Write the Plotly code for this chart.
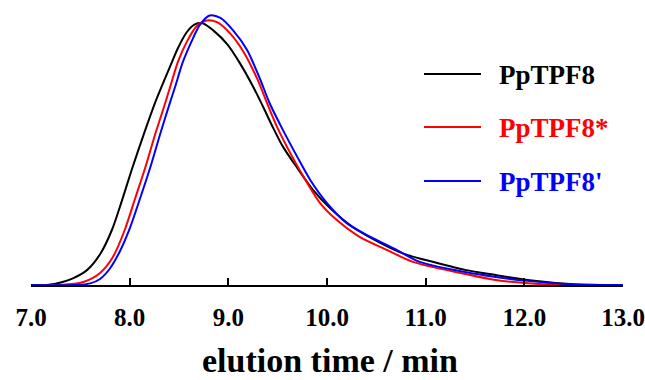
import plotly.graph_objects as go

# elution time (min) and normalized detector response
t_black = [7.0, 7.16, 7.32, 7.43, 7.57, 7.70, 7.82, 7.92, 8.02, 8.14, 8.26, 8.41, 8.49, 8.58,
           8.66, 8.74, 8.85, 8.99, 9.12, 9.25, 9.35, 9.44, 9.55, 9.70, 9.86, 10.03, 10.26, 10.54,
           10.78, 11.0, 11.40, 11.71, 12.03, 12.5, 13.0]
y_black = [0.0, 0.0, 0.011, 0.025, 0.055, 0.112, 0.200, 0.305, 0.418, 0.545, 0.665, 0.795, 0.862, 0.920,
           0.948, 0.952, 0.925, 0.875, 0.805, 0.722, 0.650, 0.582, 0.505, 0.425, 0.345, 0.280, 0.211, 0.153,
           0.113, 0.091, 0.055, 0.036, 0.018, 0.003, 0.0]

t_red = [7.0, 7.30, 7.53, 7.70, 7.83, 7.95, 8.05, 8.16, 8.26, 8.35, 8.41, 8.49, 8.58, 8.68, 8.78,
         8.89, 9.02, 9.15, 9.29, 9.40, 9.49, 9.65, 9.80, 9.93, 10.10, 10.33, 10.61, 10.87, 11.40,
         11.71, 12.14, 13.0]
y_red = [0.0, 0.0, 0.011, 0.044, 0.102, 0.200, 0.309, 0.429, 0.550, 0.650, 0.720, 0.812, 0.885, 0.942, 0.962,
         0.955, 0.914, 0.850, 0.752, 0.655, 0.578, 0.465, 0.371, 0.298, 0.236, 0.175, 0.127, 0.084, 0.040,
         0.018, 0.004, 0.0]

t_blue = [7.0, 7.45, 7.60, 7.70, 7.80, 7.90, 8.00, 8.10, 8.21, 8.31, 8.41, 8.46, 8.54, 8.63, 8.71, 8.81,
          8.92, 9.05, 9.19, 9.32, 9.42, 9.55, 9.70, 9.83, 10.0, 10.20, 10.44, 10.71, 10.94, 11.40,
          11.71, 12.03, 12.45, 13.0]
y_blue = [0.0, 0.0, 0.006, 0.022, 0.060, 0.122, 0.205, 0.309, 0.429, 0.550, 0.665, 0.720, 0.812, 0.888, 0.945, 0.980,
          0.971, 0.925, 0.855, 0.750, 0.660, 0.566, 0.465, 0.382, 0.298, 0.225, 0.175, 0.127, 0.084, 0.047,
          0.029, 0.015, 0.003, 0.0]

names = ["PpTPF8", "PpTPF8*", "PpTPF8'"]
colors = ["#000000", "#ff0000", "#0000ff"]
series = [(t_black, y_black), (t_red, y_red), (t_blue, y_blue)]

tick_vals = [7, 8, 9, 10, 11, 12, 13]
tick_text = ["7.0", "8.0", "9.0", "10.0", "11.0", "12.0", "13.0"]

FONT = "Liberation Serif"

fig = go.Figure()
for (tx, ty), name, col in zip(series, names, colors):
    fig.add_trace(go.Scatter(x=tx, y=ty, mode="lines", name=name,
                             line=dict(color=col, width=2, shape="spline", smoothing=0.8),
                             showlegend=False))

# manual legend
leg_y = [74, 127, 181]
for name, col, py in zip(names, colors, leg_y):
    yp = 1 - (py - 10) / 275
    fig.add_shape(type="line", xref="paper", yref="paper",
                  x0=(424 - 31) / 592, x1=(481 - 31) / 592, y0=yp, y1=yp,
                  line=dict(color=col, width=2))
    fig.add_annotation(xref="paper", yref="paper", x=(497 - 31) / 592, y=yp,
                       xanchor="left", yanchor="middle", yshift=-1, showarrow=False,
                       text="<b>%s</b>" % name,
                       font=dict(family=FONT, size=27, color=col))

fig.add_annotation(xref="x", yref="paper", x=10.03, y=0, yanchor="top", yshift=-55,
                   showarrow=False, text="<b>elution time / min</b>",
                   font=dict(family=FONT, size=34, color="black"))

fig.update_layout(
    width=645, height=380,
    margin=dict(l=31, r=22, t=10, b=95, autoexpand=False),
    plot_bgcolor="white", paper_bgcolor="white",
    xaxis=dict(range=[7, 13], tickvals=tick_vals, ticktext=tick_text, automargin=False,
               showgrid=False, zeroline=False, showline=True, linecolor="black", linewidth=2,
               ticks="inside", ticklen=7, tickwidth=1.5, tickcolor="black",
               ticklabelstandoff=9,
               tickfont=dict(family=FONT, size=25, color="black", weight="bold")),
    yaxis=dict(range=[0, 1], visible=False, showgrid=False, zeroline=False),
)

fig.write_html("out.html")
